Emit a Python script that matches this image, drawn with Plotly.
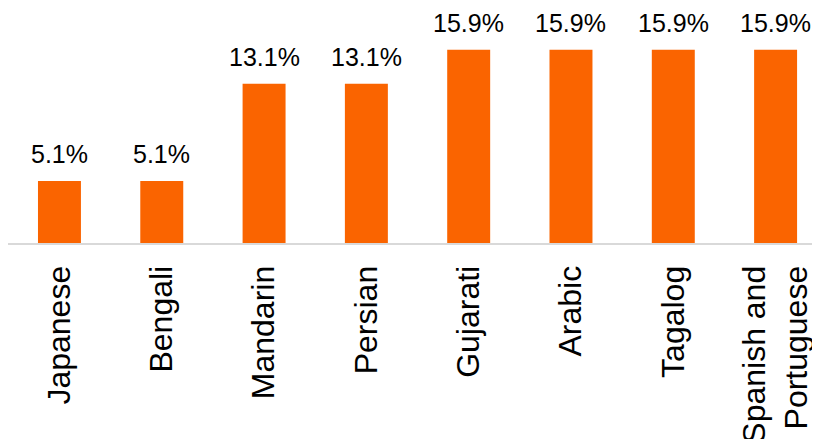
import plotly.graph_objects as go

# --- data ---
languages = ["Japanese", "Bengali", "Mandarin", "Persian", "Gujarati",
             "Arabic", "Tagalog", "Spanish and<br>Portuguese"]
share_pct = [5.1, 5.1, 13.1, 13.1, 15.9, 15.9, 15.9, 15.9]
labels = [f"{v:.1f}%" for v in share_pct]

BAR_COLOR = "#FA6400"
FONT = "Liberation Sans, Arial, sans-serif"
xs = list(range(len(languages)))

fig = go.Figure(go.Bar(
    x=xs, y=share_pct,
    marker=dict(color=BAR_COLOR, line=dict(width=0)),
    width=0.42, hoverinfo="skip",
))

# value labels above the bars
for x, y, t in zip(xs, share_pct, labels):
    fig.add_annotation(x=x, y=y, text=t, showarrow=False,
                       yanchor="bottom", yshift=11,
                       font=dict(size=25, color="#000", family=FONT))

fig.update_xaxes(
    tickmode="array", tickvals=xs, ticktext=languages,
    tickangle=-90, range=[-0.503, 7.434], automargin=False,
    showline=True, linecolor="#D9D9D9", linewidth=2,
    ticks="outside", ticklen=8, tickcolor="rgba(0,0,0,0)",
    tickfont=dict(size=32, color="#000", family=FONT),
    showgrid=False, zeroline=False,
)
fig.update_yaxes(range=[0, 19.34], visible=False, showgrid=False,
                 zeroline=False, automargin=False)

# the page body adds an 8px offset, so the margins compensate for it
fig.update_layout(
    width=820, height=439,
    margin=dict(l=0, r=8, t=0, b=204, autoexpand=False),
    plot_bgcolor="white", paper_bgcolor="white",
    showlegend=False, font=dict(family=FONT),
)

fig.write_html("out.html")
